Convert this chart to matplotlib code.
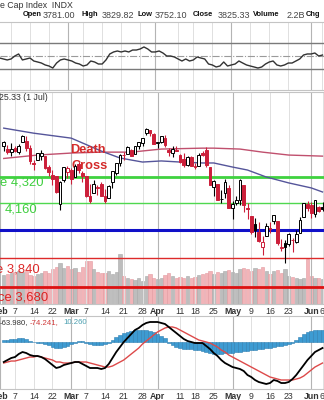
import matplotlib.pyplot as plt
import numpy as np

plt.rcParams['font.family'] = ['Liberation Sans', 'DejaVu Sans']

W, H = 324, 400

# trading day index, 0 = 1 Mar
days = np.arange(-18, 68)

opens = [4520, 4501, 4482, 4505, 4480, 4548, 4553, 4506, 4412, 4429, 4455, 4456, 4385, 4332, 4324, 4155,
         4299, 4354, 4364, 4323, 4401, 4343, 4327, 4203, 4223, 4253, 4279, 4202, 4188, 4288, 4345, 4407,
         4462, 4469, 4494, 4470, 4522, 4541, 4602, 4624, 4599, 4540, 4547, 4573, 4495, 4475, 4494, 4462,
         4437, 4397, 4449, 4385, 4390, 4472, 4490, 4385, 4255, 4279, 4186, 4222, 4253, 4130, 4159, 4181,
         4271, 4128, 4082, 4035, 3991, 3903, 3963, 4013, 4052, 4051, 3899, 3927, 3920, 3943, 3929, 3984,
         4077, 4151, 4150, 4096, 4137, 4134]
highs = [4551, 4528, 4539, 4522, 4531, 4590, 4588, 4526, 4426, 4472, 4490, 4456, 4394, 4362, 4327, 4294,
         4385, 4388, 4375, 4401, 4416, 4359, 4327, 4276, 4299, 4268, 4291, 4247, 4272, 4358, 4412, 4465,
         4481, 4522, 4501, 4520, 4546, 4575, 4637, 4627, 4603, 4548, 4583, 4593, 4504, 4521, 4521, 4464,
         4471, 4453, 4453, 4410, 4471, 4489, 4513, 4385, 4299, 4279, 4240, 4308, 4270, 4169, 4200, 4308,
         4271, 4157, 4082, 4068, 4049, 3964, 4038, 4046, 4090, 4051, 3946, 3944, 3981, 3955, 3999, 4076,
         4158, 4169, 4166, 4177, 4143, 4168]
lows = [4484, 4470, 4451, 4477, 4465, 4548, 4484, 4401, 4365, 4429, 4429, 4373, 4328, 4267, 4223, 4115,
        4286, 4315, 4279, 4322, 4345, 4289, 4199, 4157, 4223, 4209, 4200, 4162, 4188, 4251, 4335, 4390,
        4425, 4469, 4455, 4465, 4501, 4517, 4589, 4582, 4530, 4508, 4540, 4514, 4453, 4450, 4485, 4408,
        4381, 4392, 4392, 4371, 4390, 4455, 4384, 4267, 4200, 4175, 4162, 4188, 4131, 4062, 4147, 4147,
        4106, 4067, 3975, 3957, 3929, 3858, 3963, 3983, 4034, 3911, 3877, 3810, 3909, 3875, 3925, 3984,
        4077, 4110, 4073, 4074, 4107, 4110]
closes = [4547, 4477, 4500, 4484, 4521, 4587, 4504, 4419, 4401, 4472, 4475, 4380, 4349, 4305, 4226, 4288,
          4385, 4374, 4306, 4387, 4364, 4329, 4201, 4171, 4278, 4260, 4204, 4173, 4262, 4357, 4412, 4463,
          4461, 4512, 4456, 4520, 4543, 4575, 4632, 4602, 4530, 4546, 4583, 4525, 4481, 4500, 4488, 4413,
          4397, 4447, 4392.6, 4391.7, 4462, 4459, 4394, 4272, 4296, 4175, 4183, 4288, 4132, 4155, 4175, 4300,
          4147, 4123, 3991, 4001, 3935, 3930, 4024, 4008, 4088, 3924, 3900.8, 3901.4, 3974, 3941, 3979, 4058,
          4158, 4132, 4101, 4176, 4109, 4121]

# volume, billions of shares
volume = [2.52, 2.61, 2.70, 2.78, 2.87, 2.78, 2.87, 2.52, 2.43, 2.61, 2.70, 2.87, 2.70, 3.04, 3.22, 3.57,
          3.13, 3.30, 3.04, 3.13, 2.78, 3.22, 3.74, 3.74, 3.04, 2.78, 2.70, 2.70, 2.87, 2.61, 2.78, 4.35,
          2.43, 2.26, 2.17, 2.09, 2.26, 2.00, 2.43, 2.61, 2.26, 2.17, 2.26, 2.52, 2.70, 2.43, 2.26, 2.35,
          2.26, 2.43, 2.26, 2.35, 2.52, 2.61, 2.70, 2.87, 2.61, 2.78, 2.70, 2.87, 2.96, 2.78, 2.70, 3.04,
          3.13, 3.04, 2.87, 3.13, 3.04, 3.22, 2.87, 2.61, 2.87, 2.96, 2.70, 3.04, 2.43, 2.35, 2.26, 2.17,
          2.26, 3.91, 2.43, 2.26, 2.26, 2.17]

rsi = [46.9, 45.4, 43.9, 45.4, 50.0, 53.1, 43.9, 45.4, 46.9, 42.3, 40.8, 39.2, 36.2, 34.6, 31.5, 39.2,
       43.9, 45.4, 43.9, 42.3, 39.2, 37.7, 34.6, 36.2, 42.3, 40.8, 37.7, 37.7, 43.9, 53.1, 56.2, 57.7,
       56.2, 57.7, 56.2, 59.2, 59.2, 60.8, 63.9, 60.8, 56.2, 56.2, 57.7, 54.6, 50.0, 50.0, 48.5, 45.4,
       42.3, 45.4, 42.3, 43.9, 48.5, 46.9, 45.4, 37.7, 36.2, 33.1, 34.6, 40.8, 34.6, 36.2, 37.7, 42.3,
       39.2, 36.2, 34.6, 33.1, 31.5, 33.1, 37.7, 40.8, 42.3, 36.2, 34.6, 36.2, 39.2, 39.2, 42.3, 45.4,
       51.5, 53.1, 53.1, 54.6, 50.0, 51.5]

macd = [-45.0, -40.5, -36.0, -33.8, -27.0, -22.5, -24.8, -29.3, -31.5, -31.5, -33.8, -38.3, -45.0, -51.8,
        -58.5, -56.3, -51.8, -49.5, -47.3, -45.0, -45.0, -49.5, -54.0, -58.5, -58.5, -58.5, -60.8, -58.5,
        -49.5, -36.0, -22.5, -11.3, 0.0, 9.0, 18.0, 27.0, 31.5, 38.3, 42.8, 45.0, 45.0, 45.0, 42.8, 40.5,
        33.8, 27.0, 20.3, 13.5, 6.8, 2.3, 0.0, -2.3, -2.3, -2.3, -9.0, -15.8, -24.8, -31.5, -40.5, -47.3,
        -51.8, -56.3, -58.5, -60.8, -65.3, -74.3, -78.8, -85.5, -90.0, -92.3, -94.5, -92.3, -85.5, -87.8,
        -92.3, -92.3, -90.0, -83.3, -74.3, -63.0, -51.8, -40.5, -31.5, -22.5, -18.0, -13.5]
signal = [-47.3, -45.0, -42.8, -42.8, -40.5, -38.3, -36.0, -33.8, -33.8, -31.5, -33.8, -36.0, -38.3, -40.5,
          -45.0, -45.0, -47.3, -47.3, -47.3, -45.0, -45.0, -45.0, -45.0, -47.3, -49.5, -51.8, -54.0, -56.3,
          -56.3, -54.0, -49.5, -45.0, -40.5, -33.8, -27.0, -20.3, -13.5, -4.5, 2.3, 9.0, 15.8, 22.5, 27.0,
          31.5, 33.8, 33.8, 31.5, 27.0, 22.5, 18.0, 13.5, 9.0, 4.5, 2.3, 0.0, -2.3, -6.8, -11.3, -18.0,
          -22.5, -29.3, -33.8, -38.3, -42.8, -47.3, -51.8, -56.3, -60.8, -65.3, -69.8, -74.3, -78.8, -81.0,
          -83.3, -85.5, -85.5, -85.5, -85.5, -83.3, -81.0, -76.5, -69.8, -63.0, -56.3, -51.8, -47.3]
hist = [4.5, 4.5, 6.8, 6.8, 9.0, 9.0, 6.8, 2.3, 0.0, -2.3, -2.3, -4.5, -6.8, -11.3, -13.5, -13.5,
        -11.3, -9.0, -4.5, -2.3, 2.3, 2.3, -2.3, -4.5, -6.8, -6.8, -6.8, -4.5, -2.3, 4.5, 11.3, 15.8,
        20.3, 22.5, 24.8, 27.0, 27.0, 27.0, 27.0, 24.8, 22.5, 18.0, 13.5, 9.0, -2.3, -6.8, -11.3, -13.5,
        -15.8, -15.8, -15.8, -18.0, -18.0, -20.3, -22.5, -24.8, -27.0, -27.0, -27.0, -24.8, -24.8, -24.8,
        -22.5, -22.5, -20.3, -20.3, -18.0, -18.0, -15.8, -15.8, -13.5, -13.5, -11.3, -9.0, -9.0, -6.8,
        -4.5, -2.3, 4.5, 11.3, 18.0, 22.5, 24.8, 27.0, 27.0, 27.0]

ma50_days = [-18, -10, 0, 8, 13, 19, 24, 29, 35, 38, 43, 47, 52, 58, 64, 67]
ma50 = [4638, 4604, 4571, 4486, 4441, 4415, 4422, 4415, 4409, 4409, 4383, 4364, 4320, 4283, 4252, 4227]
ma200_days = [-18, -9, 0, 8, 16, 24, 35, 38, 45, 51, 58, 67]
ma200 = [4438, 4460, 4473, 4479, 4479, 4499, 4505, 4505, 4499, 4479, 4460, 4453]

levels = [4320, 4160, 4000, 3840, 3680]
level_labels = ['e 4,320', '4,160', '', 'e 3,840', 'ce 3,680']

tick_days = [-19, -15, -10, -5, 0, 4, 9, 14, 19, 23, 29, 33, 38, 43, 48, 53, 58, 64, 67]
tick_labels = ['Feb', '7', '14', '22', 'Mar', '7', '14', '21', '28', 'Apr', '11', '18', '25',
               'May', '9', '16', '23', 'Jun', '6']
months = ['Feb', 'Mar', 'Apr', 'May', 'Jun']

XLIM = (-17.9, 67.4)
RED = '#cc1f3a'


def panel(top, bottom):
    a = fig.add_axes([0, 1 - bottom / H, 1, (bottom - top) / H])
    a.set_xlim(*XLIM)
    a.set_yticks([])
    for s in ['left', 'right']:
        a.spines[s].set_visible(False)
    for s in ['top', 'bottom']:
        a.spines[s].set_color('#c4c4c4')
        a.spines[s].set_linewidth(0.8)
    for d, lab in zip(tick_days, tick_labels):
        if lab in months:
            a.axvline(d, color='#b4b4b4', lw=0.8, zorder=0)
        else:
            a.axvline(d, color='#e0e0e0', lw=0.7, zorder=0)
    return a


def date_ticks(a):
    a.set_xticks(tick_days)
    a.set_xticklabels(tick_labels, fontsize=6.3, color='#333333')
    a.tick_params(axis='x', length=0, pad=2.5)
    for t in a.get_xticklabels():
        if t.get_text() in months:
            t.set_fontweight('bold')


def ftext(x, y, s, **kw):
    fig.text(x / W, 1 - y / H, s, va='center', **kw)


fig = plt.figure(figsize=(W / 100, H / 100), dpi=100)
fig.patch.set_facecolor('white')

# header
ftext(0, 5, 'e Cap Index  INDX', fontsize=6.3, color='#333333')
header = [(23, 'Open', True), (43, '3781.00', False), (82, 'High', True), (102, '3829.82', False),
          (137, 'Low', True), (155, '3752.10', False), (193, 'Close', True), (218, '3825.33', False),
          (253, 'Volume', True), (287, '2.2B', False), (306, 'Chg', True)]
for x, s, bold in header:
    ftext(x, 15, s, fontsize=5.4 if bold else 6.5, color='#111111' if bold else '#444444',
          fontweight='bold' if bold else 'normal')

# RSI panel
ax_rsi = panel(22, 90)
ax_rsi.set_ylim(-2.3, 102.3)
ax_rsi.set_xticks([])
ax_rsi.axhline(70, color='#7a7a7a', lw=1.0)
ax_rsi.axhline(30, color='#7a7a7a', lw=1.0)
ax_rsi.axhline(50, color='#9a9a9a', lw=0.8, ls='-.')
ax_rsi.plot(days, rsi, color='#333333', lw=1.0)

# price panel with volume underneath
ax = panel(92, 304)
ax.set_yscale('log')
ax.set_ylim(3592, 4888)
ax.minorticks_off()
ax.set_yticks([])
date_ticks(ax)

axv = ax.twinx()
axv.set_ylim(0, 18.43)
axv.set_yticks([])
axv.axis('off')
ax.set_zorder(2)
axv.set_zorder(1)
ax.patch.set_visible(False)

prev = [opens[0]] + closes[:-1]
vol_colors = ['#bdbdbd' if c >= p else '#f2b4b8' for c, p in zip(closes, prev)]
vol_edges = ['#a8a8a8' if c >= p else '#e39aa0' for c, p in zip(closes, prev)]
axv.bar(days, volume, width=0.92, color=vol_colors, edgecolor=vol_edges, linewidth=0.4)

lcolors = ['#3fd23f', '#4fd84f', '#1010c8', '#dd2a2a', '#dd1111']
lwidths = [2.0, 1.0, 2.2, 1.0, 2.0]
for lv, c, lw in zip(levels, lcolors, lwidths):
    ax.axhline(lv, color=c, lw=lw, zorder=2)

ax.plot(ma200_days, ma200, color='#c0506e', lw=1.0, zorder=2)
ax.plot(ma50_days, ma50, color='#55559a', lw=1.0, zorder=2)

# candles
for d, o, hi, lo, c, p in zip(days, opens, highs, lows, closes, prev):
    if c >= o:
        face = 'white'
        edge = 'black' if c >= p else RED
    else:
        face = RED if c < p else 'black'
        edge = face
    ax.vlines(d, lo, hi, color=edge, lw=0.8, zorder=4)
    body = max(abs(c - o), 1.5)
    ax.bar(d, body, bottom=min(o, c), width=0.72, color=face, edgecolor=edge, linewidth=0.7, zorder=5)

ax.text(70 / W, 1 - 150 / H, 'Death', transform=fig.transFigure, color='#d42a2a', fontsize=9.2,
        fontweight='bold', va='center', zorder=3)
ax.text(72 / W, 1 - 166 / H, 'Cross', transform=fig.transFigure, color='#d42a2a', fontsize=9.2,
        fontweight='bold', va='center', zorder=3)

label_pos = [(0, 182, '#3fcf3f'), (5, 210, '#3fcf3f'), (0, 0, ''), (-4, 269, '#dd2a2a'), (-2, 297, '#dd2222')]
for (x, y, c), s in zip(label_pos, level_labels):
    if s:
        ftext(x, y, s, fontsize=9.4, color=c)

ftext(-1, 97, '25.33 (1 Jul)', fontsize=6.3, color='#333333')

# MACD panel
ax_m = panel(316, 389)
ax_m.set_ylim(-105.75, 58.5)
date_ticks(ax_m)
ax_m.bar(days, hist, width=1.0, color='#3d9bd2', edgecolor='#2f7fb2', linewidth=0.4, zorder=1)
ax_m.plot(days, signal, color='#dd4a4a', lw=1.0, zorder=2)
ax_m.plot(days, macd, color='black', lw=1.3, zorder=3)

ftext(0, 323, '-63.980,', fontsize=5.6, color='#333333')
ftext(30, 323, '-74.241,', fontsize=5.6, color='#d03a3a')
ftext(63, 323, '10.260', fontsize=5.6, color='#4a9fb0')

fig.savefig('out.png', dpi=100)
